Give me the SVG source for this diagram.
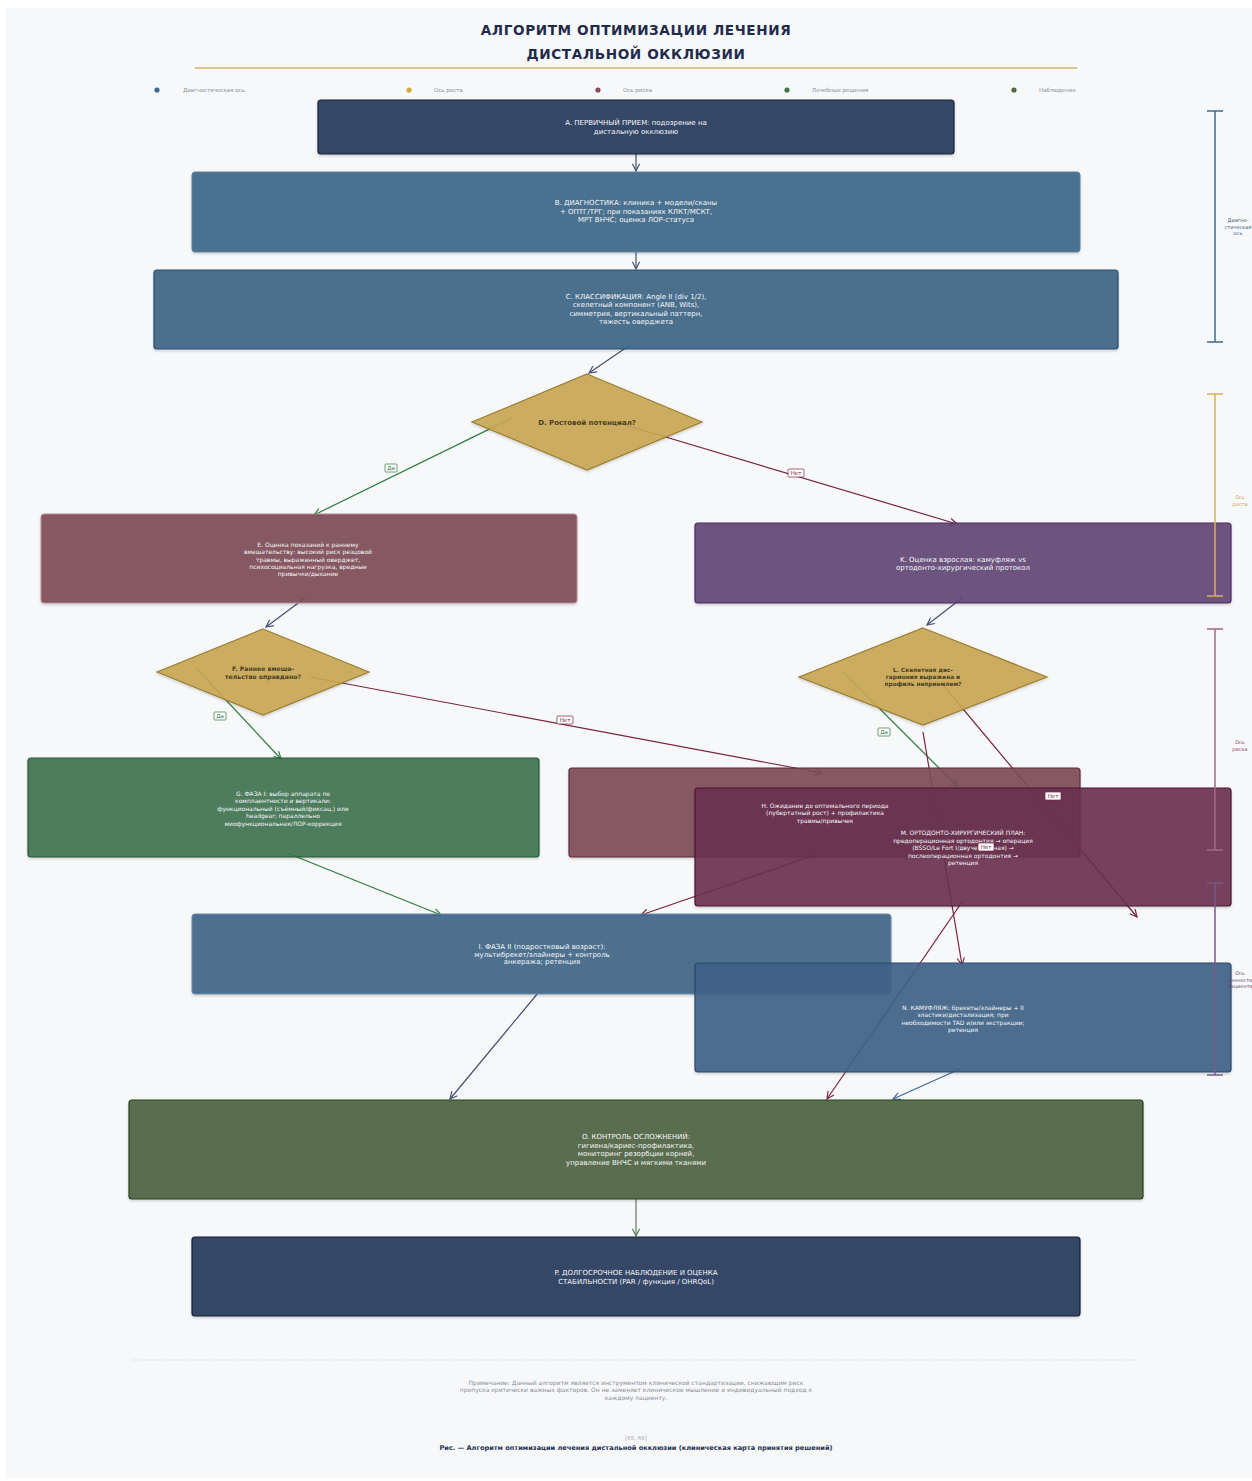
<svg xmlns="http://www.w3.org/2000/svg" width="1252" height="1481" viewBox="0 0 1252 1481">
<defs>
<style>
.t{font-family:"DejaVu Sans","Noto Sans",sans-serif;text-anchor:middle;dominant-baseline:central}
.title{font-size:13.6px;font-weight:bold;fill:#1f2b4b;letter-spacing:0.6px}
.leg{font-size:5.5px;fill:#8a8f98;text-anchor:start}
.nl{font-size:7px;fill:#f5f6f8}
.ns{font-size:6px;fill:#f5f6f8}
.dl{font-weight:bold;fill:#4a3f22}
.node rect,.node polygon{fill-opacity:0.9;filter:url(#sh)}
.e{fill:none;stroke-width:1.2}
.en{stroke:#44506e;marker-end:url(#an)}
.eg{stroke:#2e7a3e;marker-end:url(#ag)}
.er{stroke:#7a2440;marker-end:url(#ar)}
.eb{stroke:#3a6a9a;marker-end:url(#ab)}
.eo{stroke:#5f7a5a;marker-end:url(#ao)}
.lb rect{fill:#ffffff;stroke-width:0.7}
.lb text{font-size:5.5px}
.lg rect{stroke:#2e7a3e}.lg text{fill:#2e7a3e}
.lr rect{stroke:#7a2440}.lr text{fill:#7a2440}
.br{stroke-width:1.5;fill:none}
.bt{font-size:5px}
.note{font-size:6px;fill:#8a8d93}
</style>
<filter id="sh" x="-5%" y="-5%" width="110%" height="120%"><feDropShadow dx="0" dy="1.5" stdDeviation="1.2" flood-color="#000" flood-opacity="0.18"/></filter>
<marker id="an" viewBox="0 0 10 10" refX="9" refY="5" markerWidth="9" markerHeight="9" markerUnits="userSpaceOnUse" orient="auto"><path d="M1,1 L9,5 L1,9" fill="none" stroke="#44506e" stroke-width="1.3"/></marker>
<marker id="ag" viewBox="0 0 10 10" refX="9" refY="5" markerWidth="9" markerHeight="9" markerUnits="userSpaceOnUse" orient="auto"><path d="M1,1 L9,5 L1,9" fill="none" stroke="#2e7a3e" stroke-width="1.3"/></marker>
<marker id="ar" viewBox="0 0 10 10" refX="9" refY="5" markerWidth="9" markerHeight="9" markerUnits="userSpaceOnUse" orient="auto"><path d="M1,1 L9,5 L1,9" fill="none" stroke="#7a2440" stroke-width="1.3"/></marker>
<marker id="ab" viewBox="0 0 10 10" refX="9" refY="5" markerWidth="9" markerHeight="9" markerUnits="userSpaceOnUse" orient="auto"><path d="M1,1 L9,5 L1,9" fill="none" stroke="#3a6a9a" stroke-width="1.3"/></marker>
<marker id="ao" viewBox="0 0 10 10" refX="9" refY="5" markerWidth="9" markerHeight="9" markerUnits="userSpaceOnUse" orient="auto"><path d="M1,1 L9,5 L1,9" fill="none" stroke="#5f7a5a" stroke-width="1.3"/></marker>
</defs>

<rect x="0" y="0" width="1252" height="1481" fill="#ffffff"/>
<rect x="6" y="8" width="1246" height="1470" fill="#f7f8fa"/>

<g id="title">
<text class="t title" x="636" y="30">АЛГОРИТМ ОПТИМИЗАЦИИ ЛЕЧЕНИЯ</text>
<text class="t title" x="636" y="54">ДИСТАЛЬНОЙ ОККЛЮЗИИ</text>
<line x1="195" y1="68" x2="1077" y2="68" stroke="#d9c58f" stroke-width="2"/>
</g>

<g id="legend">
<circle cx="157" cy="90" r="2.6" fill="#3d6a96"/><text class="t leg" x="183" y="90">Диагностическая ось</text>
<circle cx="409" cy="90" r="2.6" fill="#d4a93a"/><text class="t leg" x="434" y="90">Ось роста</text>
<circle cx="598" cy="90" r="2.6" fill="#8b4a5a"/><text class="t leg" x="623" y="90">Ось риска</text>
<circle cx="787" cy="90" r="2.6" fill="#3a7a4a"/><text class="t leg" x="812" y="90">Лечебные решения</text>
<circle cx="1014" cy="90" r="2.6" fill="#4e6a3e"/><text class="t leg" x="1039" y="90">Наблюдение</text>
</g>

<g id="connectors">
<path class="e en" d="M636,154 L636,171"/>
<path class="e en" d="M636,252 L636,269"/>
<path class="e en" d="M630,345 L589,373"/>
<path class="e eg" d="M512,418 L314,515"/>
<path class="e er" d="M612,421 L957,524"/>
<path class="e en" d="M305,598 L266,627"/>
<path class="e en" d="M962,598 L927,625"/>
<path class="e eg" d="M196,668 L281,759"/>
<path class="e er" d="M310,677 L822,773"/>
<path class="e eg" d="M843,672 L958,787"/>
<path class="e er" d="M943,685 L1137,917"/>
<path class="e er" d="M923,732 L962,965"/>
<path class="e eg" d="M287,853 L441,915"/>
<path class="e er" d="M815,855 L641,915"/>
<path class="e en" d="M538,993 L450,1099"/>
<path class="e er" d="M962,902 L827,1099"/>
<path class="e eb" d="M962,1068 L893,1099"/>
<path class="e eo" d="M636,1199 L636,1236"/>
</g>

<g id="nodes">
<g id="node-A" class="node"><rect x="318" y="100" width="636" height="54" rx="3" fill="#22375a" stroke="#16223c" stroke-width="1.2"/></g>
<g id="node-B" class="node"><rect x="192" y="172" width="888" height="80" rx="3" fill="#3b6687" stroke="#5b82a0" stroke-width="1"/></g>
<g id="node-C" class="node"><rect x="154" y="270" width="964" height="79" rx="3" fill="#3b6585" stroke="#2a4e6c" stroke-width="1.2"/></g>
<g id="node-D" class="node"><polygon points="587,374 702,422 587,470 472,422" fill="#caa653" stroke="#9a7f32" stroke-width="1.2"/></g>
<g id="node-E" class="node"><rect x="41" y="514" width="536" height="89" rx="3" fill="#7d4a54" stroke="#b88a95" stroke-width="1"/></g>
<g id="node-K" class="node"><rect x="695" y="523" width="536" height="80" rx="3" fill="#614673" stroke="#4a2f60" stroke-width="1.2"/></g>
<g id="node-F" class="node"><polygon points="263,629 369,672 263,715 157,672" fill="#caa653" stroke="#9a7f32" stroke-width="1.2"/></g>
<g id="node-L" class="node"><polygon points="923,628 1047,677 923,725 799,677" fill="#caa653" stroke="#9a7f32" stroke-width="1.2"/></g>
<g id="node-G" class="node"><rect x="28" y="758" width="511" height="99" rx="3" fill="#3e7250" stroke="#2a5a36" stroke-width="1.2"/></g>
<g id="node-H" class="node"><rect x="569" y="768" width="511" height="89" rx="3" fill="#7d4a54" stroke="#5e2a3c" stroke-width="1.2"/></g>
<g id="node-M" class="node"><rect x="695" y="788" width="536" height="118" rx="3" fill="#6a3050" stroke="#4e1630" stroke-width="1.2"/></g>
<g id="node-I" class="node"><rect x="192" y="914" width="699" height="80" rx="3" fill="#3f6586" stroke="#6a8aa6" stroke-width="1"/></g>
<g id="node-N" class="node"><rect x="695" y="963" width="536" height="109" rx="3" fill="#3f6386" stroke="#2a4a6c" stroke-width="1.2"/></g>
<g id="node-O" class="node"><rect x="129" y="1100" width="1014" height="99" rx="3" fill="#4d6240" stroke="#23461a" stroke-width="1.2"/></g>
<g id="node-P" class="node"><rect x="192" y="1237" width="888" height="79" rx="3" fill="#22375a" stroke="#141f38" stroke-width="1.2"/></g>
</g>

<g id="node-labels">
<g id="label-A"><text class="t nl" x="636" y="123">A. ПЕРВИЧНЫЙ ПРИЕМ: подозрение на</text><text class="t nl" x="636" y="131.5">дистальную окклюзию</text></g>
<g id="label-B"><text class="t nl" x="636" y="203">B. ДИАГНОСТИКА: клиника + модели/сканы</text><text class="t nl" x="636" y="211.5">+ ОПТГ/ТРГ; при показаниях КЛКТ/МСКТ,</text><text class="t nl" x="636" y="220">МРТ ВНЧС; оценка ЛОР-статуса</text></g>
<g id="label-C"><text class="t nl" x="636" y="296.5">C. КЛАССИФИКАЦИЯ: Angle II (div 1/2),</text><text class="t nl" x="636" y="305">скелетный компонент (ANB, Wits),</text><text class="t nl" x="636" y="313.5">симметрия, вертикальный паттерн,</text><text class="t nl" x="636" y="322">тяжесть оверджета</text></g>
<g id="label-D"><text class="t dl" x="587" y="422.5" font-size="7">D. Ростовой потенциал?</text></g>
<g id="label-E"><text class="t ns" x="308" y="544.5">E. Оценка показаний к раннему</text><text class="t ns" x="308" y="551.8">вмешательству: высокий риск резцовой</text><text class="t ns" x="308" y="559.1">травмы, выраженный оверджет,</text><text class="t ns" x="308" y="566.4">психосоциальная нагрузка, вредные</text><text class="t ns" x="308" y="573.7">привычки/дыхание</text></g>
<g id="label-K"><text class="t nl" x="963" y="559.5">K. Оценка взрослая: камуфляж vs</text><text class="t nl" x="963" y="568">ортодонто-хирургический протокол</text></g>
<g id="label-F"><text class="t dl" x="263" y="668" font-size="6.2">F. Раннее вмеша-</text><text class="t dl" x="263" y="676" font-size="6.2">тельство оправдано?</text></g>
<g id="label-L"><text class="t dl" x="923" y="669.5" font-size="5.8">L. Скелетная дис-</text><text class="t dl" x="923" y="676.5" font-size="5.8">гармония выражена и</text><text class="t dl" x="923" y="683.5" font-size="5.8">профиль неприемлем?</text></g>
<g id="label-G"><text class="t ns" x="283" y="793">G. ФАЗА I: выбор аппарата по</text><text class="t ns" x="283" y="800.5">комплаентности и вертикали:</text><text class="t ns" x="283" y="808">функциональный (съёмный/фиксац.) или</text><text class="t ns" x="283" y="815.5">headgear; параллельно</text><text class="t ns" x="283" y="823">миофункциональная/ЛОР-коррекция</text></g>
<g id="label-H"><text class="t ns" x="825" y="805">H. Ожидание до оптимального периода</text><text class="t ns" x="825" y="812.5">(пубертатный рост) + профилактика</text><text class="t ns" x="825" y="820">травмы/привычек</text></g>
<g id="label-M"><text class="t ns" x="963" y="832.5">M. ОРТОДОНТО-ХИРУРГИЧЕСКИЙ ПЛАН:</text><text class="t ns" x="963" y="840">предоперационная ортодонтия → операция</text><text class="t ns" x="963" y="847.5">(BSSO/Le Fort I/двучелюстная) →</text><text class="t ns" x="963" y="855">послеоперационная ортодонтия →</text><text class="t ns" x="963" y="862.5">ретенция</text></g>
<g id="label-I"><text class="t nl" x="542" y="947">I. ФАЗА II (подростковый возраст):</text><text class="t nl" x="542" y="954.5">мультибрекет/элайнеры + контроль</text><text class="t nl" x="542" y="962">анкеража; ретенция</text></g>
<g id="label-N"><text class="t ns" x="963" y="1007">N. КАМУФЛЯЖ: брекеты/элайнеры + II</text><text class="t ns" x="963" y="1014.5">эластики/дистализация; при</text><text class="t ns" x="963" y="1022">необходимости TAD и/или экстракции;</text><text class="t ns" x="963" y="1029.5">ретенция</text></g>
<g id="label-O"><text class="t nl" x="636" y="1137">O. КОНТРОЛЬ ОСЛОЖНЕНИЙ:</text><text class="t nl" x="636" y="1145.7">гигиена/кариес-профилактика,</text><text class="t nl" x="636" y="1154.3">мониторинг резорбции корней,</text><text class="t nl" x="636" y="1163">управление ВНЧС и мягкими тканями</text></g>
<g id="label-P"><text class="t nl" x="636" y="1273">P. ДОЛГОСРОЧНОЕ НАБЛЮДЕНИЕ И ОЦЕНКА</text><text class="t nl" x="636" y="1281.5">СТАБИЛЬНОСТИ (PAR / функция / OHRQoL)</text></g>
</g>

<g id="edge-labels">
<g class="lb lg"><rect x="385" y="464" width="12" height="8" rx="1"/><text class="t" x="391" y="468">Да</text></g>
<g class="lb lr"><rect x="788" y="469" width="16" height="8" rx="1"/><text class="t" x="796" y="473">Нет</text></g>
<g class="lb lg"><rect x="214" y="712" width="12" height="8" rx="1"/><text class="t" x="220" y="716">Да</text></g>
<g class="lb lr"><rect x="557" y="716" width="16" height="8" rx="1"/><text class="t" x="565" y="720">Нет</text></g>
<g class="lb lg"><rect x="878" y="728" width="12" height="8" rx="1"/><text class="t" x="884" y="732">Да</text></g>
<g class="lb lr"><rect x="1045" y="792" width="16" height="8" rx="1"/><text class="t" x="1053" y="796">Нет</text></g>
<g class="lb lr"><rect x="978" y="843" width="16" height="8" rx="1"/><text class="t" x="986" y="847">Нет</text></g>
</g>

<g id="axis-brackets">
<path class="br" stroke="#3f6a8c" d="M1215,111 V342 M1207,111 H1223 M1207,342 H1223"/>
<text class="t bt" fill="#3a5a78" x="1238" y="220">Диагно-</text><text class="t bt" fill="#3a5a78" x="1238" y="226.5">стическая</text><text class="t bt" fill="#3a5a78" x="1238" y="233">ось</text>
<path class="br" stroke="#d4b060" d="M1215,394 V596 M1207,394 H1223 M1207,596 H1223"/>
<text class="t bt" fill="#c8a050" x="1240" y="497">Ось</text><text class="t bt" fill="#c8a050" x="1240" y="503.5">роста</text>
<path class="br" stroke="#9e6a80" d="M1215,629 V850 M1207,629 H1223 M1207,850 H1223"/>
<text class="t bt" fill="#8a4a62" x="1240" y="742">Ось</text><text class="t bt" fill="#8a4a62" x="1240" y="748.5">риска</text>
<path class="br" stroke="#7a5a8e" d="M1215,883 V1075 M1207,883 H1223 M1207,1075 H1223"/>
<text class="t bt" fill="#6a4a7a" x="1240" y="973">Ось</text><text class="t bt" fill="#6a4a7a" x="1240" y="979.5">ценности</text><text class="t bt" fill="#6a4a7a" x="1240" y="986">пациента</text>
</g>

<g id="footer">
<line x1="132" y1="1360" x2="1138" y2="1360" stroke="#cfd2d6" stroke-width="0.8" stroke-dasharray="1.5,1.5"/>
<text class="t note" x="636" y="1382">Примечание: Данный алгоритм является инструментом клинической стандартизации, снижающим риск</text>
<text class="t note" x="636" y="1389.5">пропуска критически важных факторов. Он не заменяет клиническое мышление и индивидуальный подход к</text>
<text class="t note" x="636" y="1397">каждому пациенту.</text>
<text class="t" x="636" y="1438" font-size="5.5" fill="#a8abb0">[65, 66]</text>
<text class="t" x="636" y="1448" font-size="6.6" font-weight="bold" fill="#25304e">Рис. — Алгоритм оптимизации лечения дистальной окклюзии (клиническая карта принятия решений)</text>
</g>
</svg>
